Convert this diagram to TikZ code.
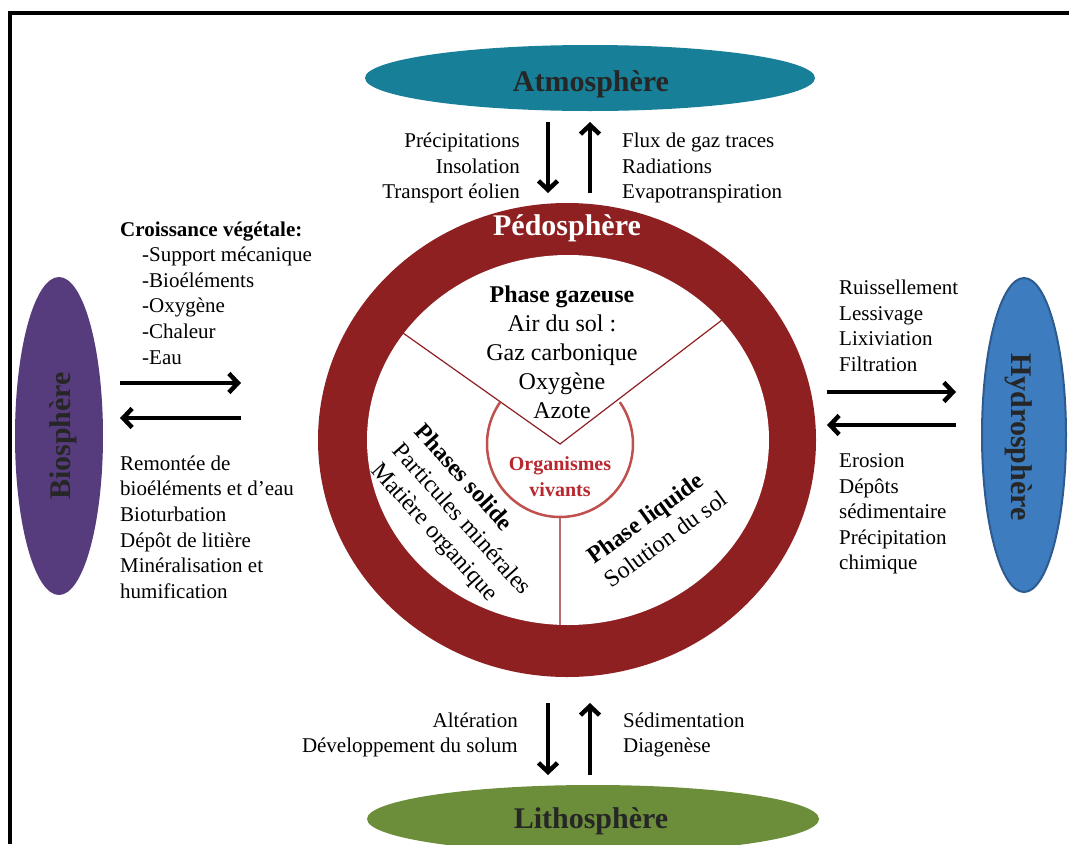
\documentclass[tikz,border=0pt]{standalone}
\usepackage{fontspec}
\setmainfont{Liberation Serif}
\usetikzlibrary{shapes.geometric,arrows.meta,positioning}

\definecolor{atmoblue}{RGB}{23,127,151}
\definecolor{pedored}{RGB}{142,32,34}
\definecolor{biopurple}{RGB}{86,60,124}
\definecolor{hydroblue}{RGB}{61,124,191}
\definecolor{hydroline}{RGB}{46,91,143}
\definecolor{lithogreen}{RGB}{108,142,59}
\definecolor{orgline}{RGB}{192,80,77}
\definecolor{orgtext}{RGB}{184,40,46}
\definecolor{labelgray}{RGB}{38,38,38}

\tikzset{
  sphere/.style={ellipse,inner sep=0pt,outer sep=0pt},
  spherelabel/.style={font=\fontsize{30}{36}\selectfont\bfseries,text=labelgray,inner sep=0pt,anchor=base},
  fluxtext/.style={font=\fontsize{21}{25.6}\selectfont,inner sep=0pt},
  phasetext/.style={font=\fontsize{24}{29}\selectfont,inner sep=0pt},
  flow/.style={line width=4.5pt,-{Straight Barb[length=9pt,width=19pt]}}
}

\begin{document}
\begin{tikzpicture}[x=1pt,y=-1pt]
   \useasboundingbox (0,0) rectangle (1069,844);
   \draw[line width=4pt] (10,844) -- (10,13) -- (1069,13);

   % the five spheres
   \node[sphere,fill=atmoblue,minimum width=450pt,minimum height=66pt] (atmo) at (590,78) {};
   \node[sphere,fill=biopurple,minimum width=88pt,minimum height=318pt] (bio) at (59,436) {};
   \node[sphere,fill=hydroblue,draw=hydroline,line width=2pt,minimum width=84pt,minimum height=314pt] (hydro) at (1024,435) {};
   \node[sphere,fill=lithogreen,minimum width=452pt,minimum height=68pt] (litho) at (593,819) {};
   \node[sphere,fill=pedored,minimum width=498pt,minimum height=474pt] (pedo) at (567,440) {};
   \node[sphere,fill=white,minimum width=402pt,minimum height=370pt] (pedoin) at (568,440) {};

   \node[spherelabel] (atmolabel) at (591,91) {Atmosphère};
   \node[spherelabel] (litholabel) at (591,828) {Lithosphère};
   \node[spherelabel,rotate=90] (biolabel) at (70,436) {Biosphère};
   \node[spherelabel,rotate=-90] (hydrolabel) at (1011,437) {Hydrosphère};
   \node[spherelabel,text=white] (pedolabel) at (567,235) {Pédosphère};

   % the three phases
   \coordinate (o) at (560,444);
   \coordinate (gl) at (403,333);
   \coordinate (gr) at (722,320);
   \coordinate (s1) at (560,517);
   \coordinate (s2) at (560,626);
   \draw[pedored,line width=1.2pt] (gl) -- (o) -- (gr) (s1) -- (s2);
   \draw[orgline,line width=2.5pt] (o) ++(-145:73) arc[start angle=-145,end angle=-395,radius=73];

   \node[phasetext,align=center] (gaz) at (562,352)
      {\textbf{Phase gazeuse}\\Air du sol :\\Gaz carbonique\\Oxygène\\Azote};
   \node[font=\fontsize{20}{26}\selectfont\bfseries,text=orgtext,align=center,inner sep=0pt]
      (org) [below=12pt of o] {Organismes\\vivants};
   \node[phasetext,align=left,rotate=-48] (solide) at (461,520)
      {\textbf{Phases solide}\\Particules minérales\\Matière organique};
   \node[phasetext,align=left,rotate=36] (liquide) at (657,527)
      {\textbf{Phase liquide}\\Solution du sol};

   % exchanges
   \coordinate (a1) at (548,122);  \coordinate (a2) at (548,193);
   \coordinate (a3) at (590,193);  \coordinate (a4) at (590,122);
   \coordinate (b1) at (120,383);  \coordinate (b2) at (241,383);
   \coordinate (b3) at (241,418);  \coordinate (b4) at (120,418);
   \coordinate (h1) at (827,392);  \coordinate (h2) at (956,392);
   \coordinate (h3) at (956,425);  \coordinate (h4) at (827,425);
   \coordinate (l1) at (548,703);  \coordinate (l2) at (548,775);
   \coordinate (l3) at (590,775);  \coordinate (l4) at (590,703);
   \path[flow]
    (a1) edge (a2)
    (a3) edge (a4)
    (b1) edge (b2)
    (b3) edge (b4)
    (h1) edge (h2)
    (h3) edge (h4)
    (l1) edge (l2)
    (l3) edge (l4);

   \node[fluxtext,align=right,anchor=east] (prec) at (520,168)
      {Précipitations\\Insolation\\Transport éolien};
   \node[fluxtext,align=left,anchor=west] (gazflux) at (622,168)
      {Flux de gaz traces\\Radiations\\Evapotranspiration};
   \node[fluxtext,align=left,anchor=west] (crois) at (120,293)
      {\textbf{Croissance végétale:}\\\hspace*{22pt}-Support mécanique\\\hspace*{22pt}-Bioéléments\\\hspace*{22pt}-Oxygène\\\hspace*{22pt}-Chaleur\\\hspace*{22pt}-Eau};
   \node[fluxtext,align=left,anchor=west] (remont) at (120,527)
      {Remontée de\\bioéléments et d’eau\\Bioturbation\\Dépôt de litière\\Minéralisation et\\humification};
   \node[fluxtext,align=left,anchor=west] (ruiss) at (839,326)
      {Ruissellement\\Lessivage\\Lixiviation\\Filtration};
   \node[fluxtext,align=left,anchor=west] (eros) at (839,514)
      {Erosion\\Dépôts\\sédimentaire\\Précipitation\\chimique};
   \node[fluxtext,align=right,anchor=east] (alter) at (518,735)
      {Altération\\Développement du solum};
   \node[fluxtext,align=left,anchor=west] (sedim) at (623,735)
      {Sédimentation\\Diagenèse};
\end{tikzpicture}
\end{document}
